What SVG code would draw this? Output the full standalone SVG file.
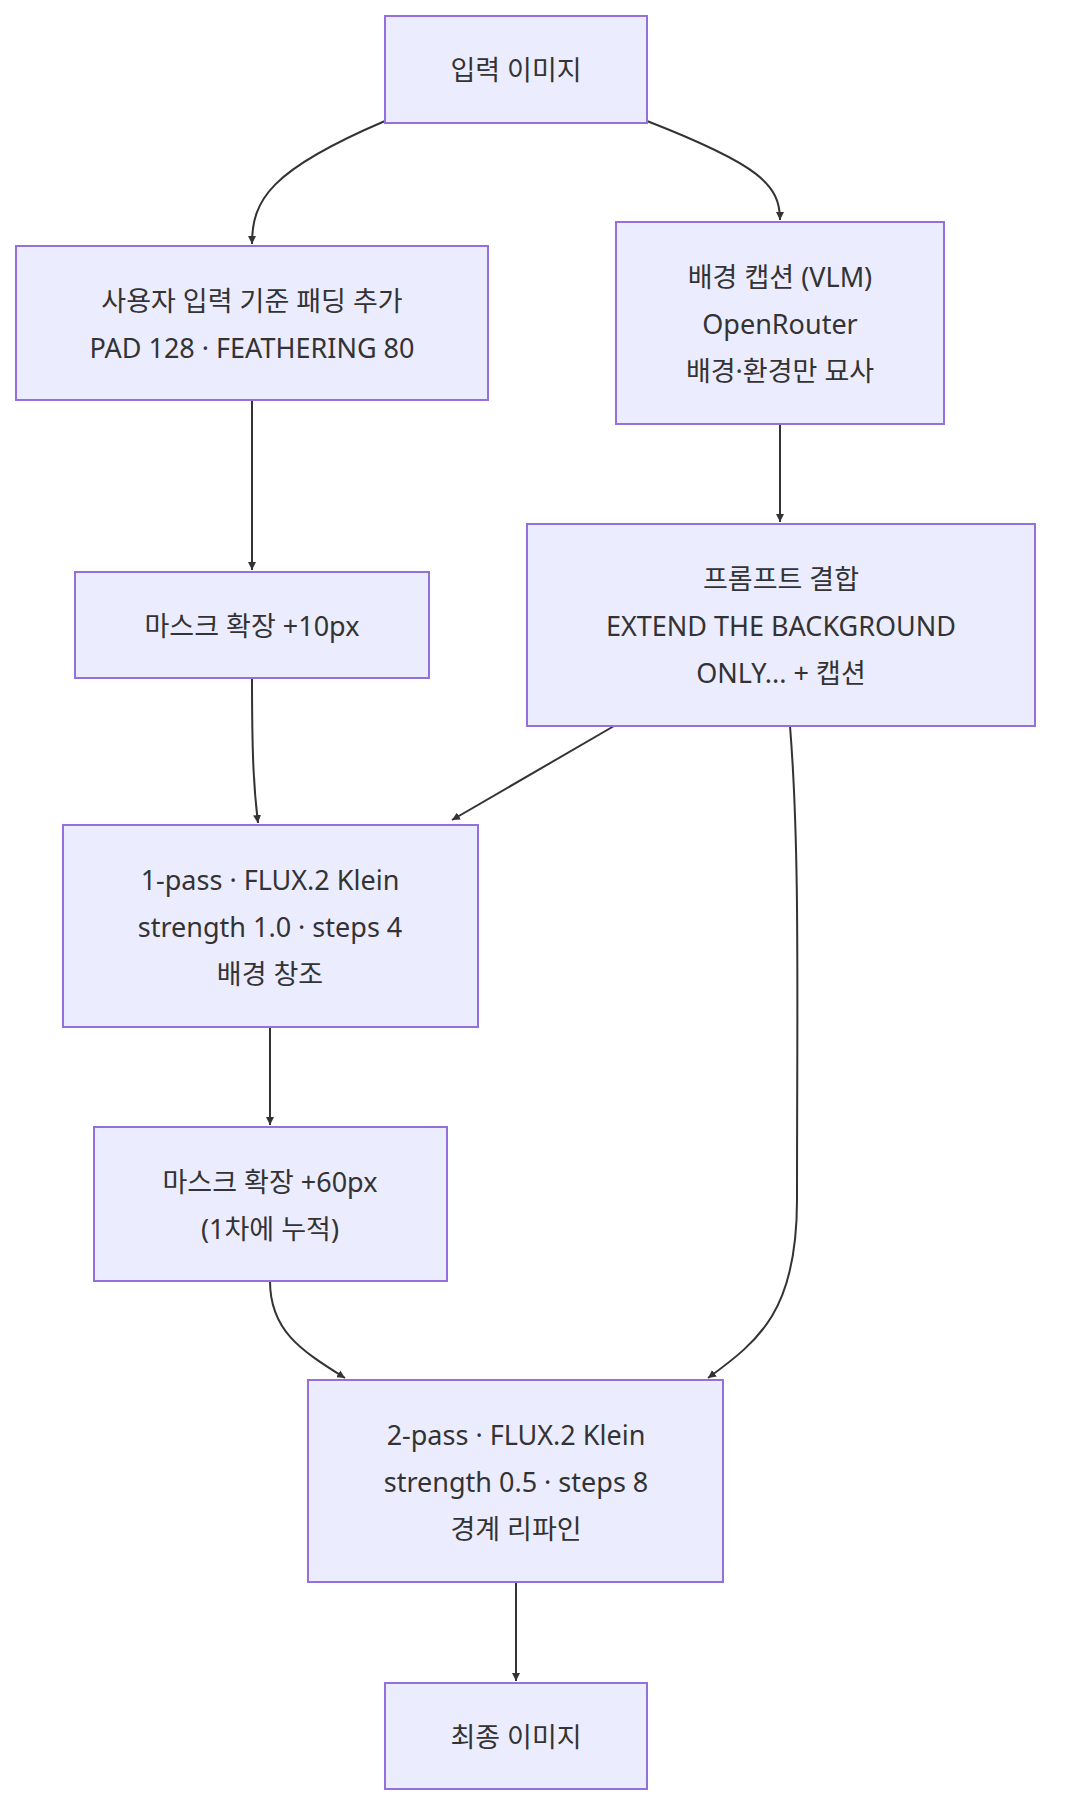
<svg xmlns="http://www.w3.org/2000/svg" width="1076" height="1820" viewBox="0 0 1076 1820">
<style>
.n rect{fill:#ECECFF;stroke:#9370DB;stroke-width:2}
.n text{font-family:"Noto Sans","Noto Sans CJK KR",sans-serif;font-size:27px;fill:#333;text-anchor:middle;dominant-baseline:central}
.e path{fill:none;stroke:#333;stroke-width:2;marker-end:url(#ah)}
</style>
<defs><marker id="ah" viewBox="0 0 10 10" refX="10" refY="5" markerWidth="8" markerHeight="8" markerUnits="userSpaceOnUse" orient="auto"><path d="M0,0L10,5L0,10z" fill="#333"/></marker></defs>
<rect width="1076" height="1820" fill="#fff"/>
<g class="e">
<path d="M385,121 C270,170 252,200 252,244"/>
<path d="M647,121 C760,165 780,185 780,220"/>
<path d="M252,400 L252,570"/>
<path d="M780,424 L780,522"/>
<path d="M252,678 C252,760 254,790 258,823"/>
<path d="M614,726 L452,820"/>
<path d="M790,726 C800,850 797,1000 797,1200 C797,1310 760,1340 708,1378"/>
<path d="M270,1027 L270,1125"/>
<path d="M270,1281 C270,1330 300,1350 345,1378"/>
<path d="M516,1582 L516,1681"/>
</g>
<g id="A" class="n"><rect x="385" y="16" width="262" height="107"/><text x="516" y="69">입력 이미지</text></g>
<g id="B" class="n"><rect x="16" y="246" width="472" height="154"/><text x="252" y="300">사용자 입력 기준 패딩 추가</text><text x="252" y="347">PAD 128 · FEATHERING 80</text></g>
<g id="C" class="n"><rect x="616" y="222" width="328" height="202"/><text x="780" y="276">배경 캡션 (VLM)</text><text x="780" y="323">OpenRouter</text><text x="780" y="370">배경·환경만 묘사</text></g>
<g id="D" class="n"><rect x="75" y="572" width="354" height="106"/><text x="252" y="625">마스크 확장 +10px</text></g>
<g id="E" class="n"><rect x="527" y="524" width="508" height="202"/><text x="781" y="578">프롬프트 결합</text><text x="781" y="625">EXTEND THE BACKGROUND</text><text x="781" y="672">ONLY... + 캡션</text></g>
<g id="F" class="n"><rect x="63" y="825" width="415" height="202"/><text x="270" y="879">1-pass · FLUX.2 Klein</text><text x="270" y="926">strength 1.0 · steps 4</text><text x="270" y="973">배경 창조</text></g>
<g id="G" class="n"><rect x="94" y="1127" width="353" height="154"/><text x="270" y="1181">마스크 확장 +60px</text><text x="270" y="1228">(1차에 누적)</text></g>
<g id="H" class="n"><rect x="308" y="1380" width="415" height="202"/><text x="516" y="1434">2-pass · FLUX.2 Klein</text><text x="516" y="1481">strength 0.5 · steps 8</text><text x="516" y="1528">경계 리파인</text></g>
<g id="I" class="n"><rect x="385" y="1683" width="262" height="106"/><text x="516" y="1736">최종 이미지</text></g>
</svg>
